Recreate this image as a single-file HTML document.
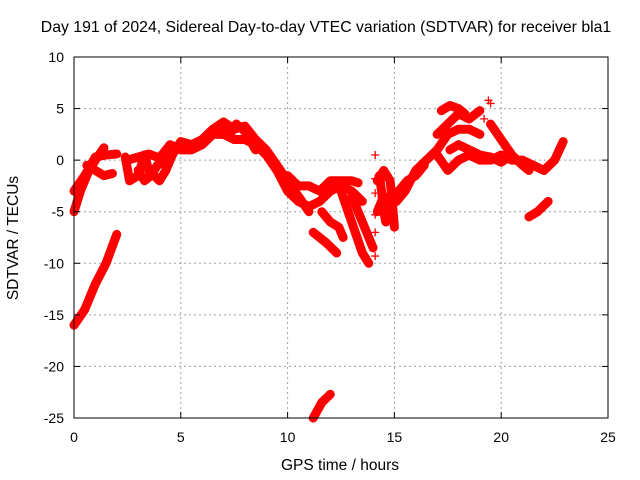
<!DOCTYPE html>
<html><head><meta charset="utf-8"><style>
body{margin:0;background:#fff;}
svg{display:block;font-family:"Liberation Sans",sans-serif;}
</style></head><body>
<svg id="chart" width="640" height="480">
<rect width="640" height="480" fill="#fff"/>
<text x="326" y="32" font-size="15.8" text-anchor="middle">Day 191 of 2024, Sidereal Day-to-day VTEC variation (SDTVAR) for receiver bla1</text>
<text x="340" y="470" font-size="15.5" text-anchor="middle">GPS time / hours</text>
<text transform="translate(18,238) rotate(-90)" font-size="15.5" text-anchor="middle">SDTVAR / TECUs</text>
<g id="grid"></g><g id="marks"></g><g id="axes"></g>
</svg>
<script>
const xTicks=[0,5,10,15,20,25];
const yTicks=[10,5,0,-5,-10,-15,-20,-25];
const seriesA=[[0,-16],[0.5,-14.5],[1,-12],[1.5,-10],[2,-7.2]];
const seriesB=[[0,-5],[0.3,-3],[0.7,-1],[1,0],[1.4,1.2]];
const seriesC=[[0,-3],[0.5,-1.5],[1,0.3],[1.5,0.5],[2,0.6]];
const seriesC2=[[0.6,-0.5],[1,-1],[1.4,-1.5],[1.8,-1.3]];
const seriesD=[[2.4,0.3],[2.6,-2],[3,-1.5],[3.3,0.5],[3.5,-1],[4,-2],[4.3,-1],[4.6,0.5],[5,1.8],[5.5,1.5],[6,2],[6.5,3],[7,3.7],[7.5,3],[8,3.3],[8.5,2],[9,1],[9.5,-0.5],[10,-2],[10.5,-3.5],[11,-5]];
const seriesE=[[2.5,0],[3,0.3],[3.5,0.6],[4,0.2],[4.5,1.5],[5,1],[5.5,1],[6,1.5],[6.5,2.5],[7,2.5],[7.5,2],[8,2],[8.5,1.5],[9,0.5],[9.5,-1],[10,-3],[10.5,-4],[11,-4.5],[11.5,-4],[12,-3],[12.5,-2.5],[13,-3],[13.5,-4]];
const seriesE2=[[3,-1],[3.3,-2],[3.6,-1.5],[3.9,-0.5],[4.4,0]];
const seriesE3=[[7,3],[7.3,2.5],[7.6,3.5],[8,2.8],[8.5,1]];
const seriesF=[[10,-1.5],[10.5,-2.5],[11,-2.5],[11.5,-3],[12,-2],[12.5,-2],[13,-2],[13.3,-2.2]];
const seriesG=[[11.6,-5],[12,-6],[12.4,-6.5],[12.6,-7.5]];
const seriesH=[[12.5,-3],[13,-6],[13.5,-9],[13.8,-10]];
const seriesI=[[13,-3.5],[13.5,-6],[14,-8.5]];
const seriesJ=[[11.2,-7],[11.8,-8],[12.3,-9]];
const seriesK=[[11.2,-25],[11.6,-23.5],[12,-22.7]];
const seriesL=[[14.2,-2],[14.5,-1],[14.8,-2],[14.9,-4],[15,-6.5]];
const seriesM=[[14.2,-5],[14.5,-3.5],[14.7,-4.5]];
const seriesM2=[[14.3,-1.5],[14.4,-3],[14.5,-5],[14.6,-6],[14.8,-4]];
const seriesN=[[15.1,-4],[15.5,-3],[16,-1],[16.5,0],[17,1],[17.5,2.5],[18,3],[18.5,3],[19,2.5]];
const seriesN2=[[15.2,-3],[15.6,-2],[16,-1.5],[16.4,-0.5]];
const seriesO=[[17,2.5],[17.5,3.5],[18,4.5],[18.5,4],[19,4.8]];
const seriesP=[[17.2,4.8],[17.6,5.3],[18,5],[18.3,4.5]];
const seriesQ=[[17,0.5],[17.5,-1],[18,0],[18.5,0.5],[19,0],[19.5,0],[20,0.5],[20.5,0],[21,0],[21.5,-0.5],[22,-1],[22.5,0],[22.9,1.8]];
const seriesQ2=[[17.6,1],[18,1.5],[18.5,1],[19,0.5],[19.5,0.3],[20,-0.2],[20.5,0.5]];
const seriesR=[[19.5,3.5],[20,2],[20.5,0.5],[21,-0.5],[21.3,-1]];
const seriesS=[[21.3,-5.5],[21.7,-5],[22.2,-4]];
const scatterPts=[[14.1,0.5],[14.1,-1.8],[14.1,-3.2],[14.1,-5.3],[14.1,-7],[14.1,-9.3],[19.4,5.8],[19.5,5.5],[18.8,4.5],[19.2,4]];
const allSeries=[seriesA,seriesB,seriesC,seriesC2,seriesD,seriesE,seriesE2,seriesE3,seriesF,seriesG,seriesH,seriesI,seriesJ,seriesK,seriesL,seriesM,seriesM2,seriesN,seriesN2,seriesO,seriesP,seriesQ,seriesQ2,seriesR,seriesS];

const L=74,R=608,T=57,B=418;
const xs=h=>L+h/25*(R-L);
const ys=v=>T+(10-v)/35*(B-T);
const NS="http://www.w3.org/2000/svg";
function mk(t,a,p){const e=document.createElementNS(NS,t);for(const k in a)e.setAttribute(k,a[k]);p.appendChild(e);return e;}
const grid=document.getElementById('grid'),axes=document.getElementById('axes'),marks=document.getElementById('marks');
xTicks.forEach(t=>{const x=xs(t);
 if(t>0&&t<25){const g=mk('line',{x1:x,y1:T,x2:x,y2:B,stroke:'#a0a0a0','stroke-dasharray':'2,3'},grid);
 
 }
 const lb=mk('text',{x:x,y:B+24,'font-size':14,'text-anchor':'middle'},axes);lb.textContent=t;
 
 
 mk('line',{x1:x,y1:B,x2:x,y2:B-6,stroke:'#000'},axes);mk('line',{x1:x,y1:T,x2:x,y2:T+6,stroke:'#000'},axes);});
yTicks.forEach(t=>{const y=ys(t);
 if(t<10&&t>-25){const g=mk('line',{x1:L,y1:y,x2:R,y2:y,stroke:'#a0a0a0','stroke-dasharray':'2,3'},grid);
 
 }
 const lb=mk('text',{x:L-10,y:y+5,'font-size':14,'text-anchor':'end'},axes);lb.textContent=t;
 
 
 mk('line',{x1:L,y1:y,x2:L+6,y2:y,stroke:'#000'},axes);mk('line',{x1:R,y1:y,x2:R-6,y2:y,stroke:'#000'},axes);});
const fr=mk('rect',{x:L,y:T,width:R-L,height:B-T,fill:'none',stroke:'#000'},axes);


function plus(x,y){mk('path',{d:`M${x-4},${y}h8M${x},${y-4}v8`,stroke:'#f00','stroke-width':1.3},marks);}
allSeries.forEach(s=>{
 const pl=mk('polyline',{points:s.map(p=>xs(p[0])+','+ys(p[1])).join(' '),fill:'none',stroke:'#f00','stroke-width':9,'stroke-linejoin':'round','stroke-linecap':'round'},marks);
 
 
 s.forEach(p=>plus(xs(p[0]),ys(p[1])));});
scatterPts.forEach(p=>plus(xs(p[0]),ys(p[1])));
</script>
</body></html>
